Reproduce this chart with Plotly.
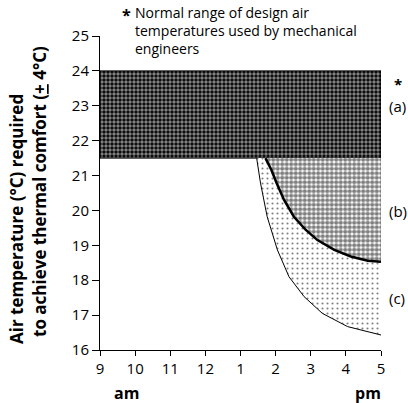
import plotly.graph_objects as go

# ---- data ----
hour_ticks = [9, 10, 11, 12, 13, 14, 15, 16, 17]
hour_labels = ["9", "10", "11", "12", "1", "2", "3", "4", "5"]
temp_ticks = [16, 17, 18, 19, 20, 21, 22, 23, 24, 25]

# band (a): normal design range
band_a_x = [9, 17]
band_a_top = 24.0
band_a_bottom = 21.5

# curve bounding zone (b) (thick line)
curve_b_x = [13.71, 13.88, 14.03, 14.24, 14.52, 14.86, 15.19, 15.67, 16.14, 16.62, 17.0]
curve_b_y = [21.5, 21.16, 20.78, 20.30, 19.82, 19.44, 19.15, 18.87, 18.68, 18.56, 18.53]

# curve bounding zone (c) (thin line)
curve_c_x = [13.46, 13.57, 13.76, 14.05, 14.38, 14.81, 15.33, 16.05, 17.0]
curve_c_y = [21.5, 20.78, 19.82, 18.87, 18.10, 17.53, 17.05, 16.67, 16.43]

# ---- layout geometry ----
W, H = 408, 403
L, R, T, B = 100, 27, 36, 53
PW, PH = W - L - R, H - T - B

def px(x):
    return (x - L) / PW

def py(y):
    return (H - B - y) / PH

FONT = "Open Sans"

fig = go.Figure()

# zone (a)
fig.add_trace(go.Scatter(
    x=[band_a_x[0], band_a_x[1], band_a_x[1], band_a_x[0], band_a_x[0]],
    y=[band_a_top, band_a_top, band_a_bottom, band_a_bottom, band_a_top],
    fill="toself", mode="lines",
    line=dict(color="black", width=1),
    fillcolor="black",
    fillpattern=dict(shape=".", size=4, solidity=0.6, fgcolor="white", bgcolor="black"),
    hoverinfo="skip", showlegend=False))

# zone (c): between thin curve and thick curve
xc = curve_c_x + [17.0] + curve_b_x[::-1]
yc = curve_c_y + [curve_b_y[-1]] + curve_b_y[::-1]
fig.add_trace(go.Scatter(
    x=xc, y=yc, fill="toself", mode="lines",
    line=dict(color="rgba(0,0,0,0)", width=0),
    fillpattern=dict(shape=".", size=5, solidity=0.14, fgcolor="black", bgcolor="white"),
    hoverinfo="skip", showlegend=False))

# zone (b): above thick curve up to 21.5
xb = curve_b_x + [17.0, curve_b_x[0]]
yb = curve_b_y + [band_a_bottom, band_a_bottom]
fig.add_trace(go.Scatter(
    x=xb, y=yb, fill="toself", mode="lines",
    line=dict(color="rgba(0,0,0,0)", width=0),
    fillpattern=dict(shape=".", size=4.5, solidity=0.68, fgcolor="black", bgcolor="white"),
    hoverinfo="skip", showlegend=False))

# lines
fig.add_trace(go.Scatter(x=curve_c_x, y=curve_c_y, mode="lines",
                         line=dict(color="black", width=1),
                         hoverinfo="skip", showlegend=False))
fig.add_trace(go.Scatter(x=curve_b_x, y=curve_b_y, mode="lines",
                         line=dict(color="black", width=2.5),
                         hoverinfo="skip", showlegend=False))

ann = []
note = "Normal range of design air<br>temperatures used by mechanical<br>engineers"
ann.append(dict(text=note, x=px(133), y=py(30), xref="paper", yref="paper",
                xanchor="left", yanchor="middle", align="left", showarrow=False,
                font=dict(family=FONT, size=14, color="black")))
ann.append(dict(text="<b>*</b>", x=px(126), y=py(15), xref="paper", yref="paper",
                xanchor="center", yanchor="middle", showarrow=False,
                font=dict(family=FONT, size=16, color="black")))
ann.append(dict(text="<b>*</b>", x=px(398), y=py(84), xref="paper", yref="paper",
                xanchor="center", yanchor="middle", showarrow=False,
                font=dict(family=FONT, size=15, color="black")))
for lab, yy in [("(a)", 106), ("(b)", 211), ("(c)", 298)]:
    ann.append(dict(text=lab, x=px(387), y=py(yy), xref="paper", yref="paper",
                    xanchor="left", yanchor="middle", showarrow=False,
                    font=dict(family=FONT, size=15, color="black")))
ann.append(dict(text="<b>Air temperature (°C) required</b>", x=px(16), y=py(219),
                xref="paper", yref="paper", textangle=-90, showarrow=False,
                xanchor="center", yanchor="middle",
                font=dict(family=FONT, size=17, color="black")))
ann.append(dict(text="<b>to achieve thermal comfort (<u>+</u> 4°C)</b>", x=px(39), y=py(192),
                xref="paper", yref="paper", textangle=-90, showarrow=False,
                xanchor="center", yanchor="middle",
                font=dict(family=FONT, size=17, color="black")))
ann.append(dict(text="<b>am</b>", x=px(126), y=py(393), xref="paper", yref="paper",
                xanchor="center", yanchor="middle", showarrow=False,
                font=dict(family=FONT, size=16, color="black")))
ann.append(dict(text="<b>pm</b>", x=px(368), y=py(393), xref="paper", yref="paper",
                xanchor="center", yanchor="middle", showarrow=False,
                font=dict(family=FONT, size=16, color="black")))

fig.update_layout(
    width=W, height=H,
    margin=dict(l=L, r=R, t=T, b=B),
    paper_bgcolor="white", plot_bgcolor="white",
    font=dict(family=FONT, size=15, color="black"),
    annotations=ann,
    xaxis=dict(range=[9, 17], tickvals=hour_ticks, ticktext=hour_labels,
               showgrid=False, zeroline=False, showline=True, linecolor="black",
               linewidth=1, ticks="outside", ticklen=5, tickcolor="black",
               tickfont=dict(size=15)),
    yaxis=dict(range=[16, 25], tickvals=temp_ticks,
               showgrid=False, zeroline=False, showline=True, linecolor="black",
               linewidth=1, ticks="outside", ticklen=7, tickcolor="black",
               tickfont=dict(size=15)),
)

fig.write_html("out.html")
